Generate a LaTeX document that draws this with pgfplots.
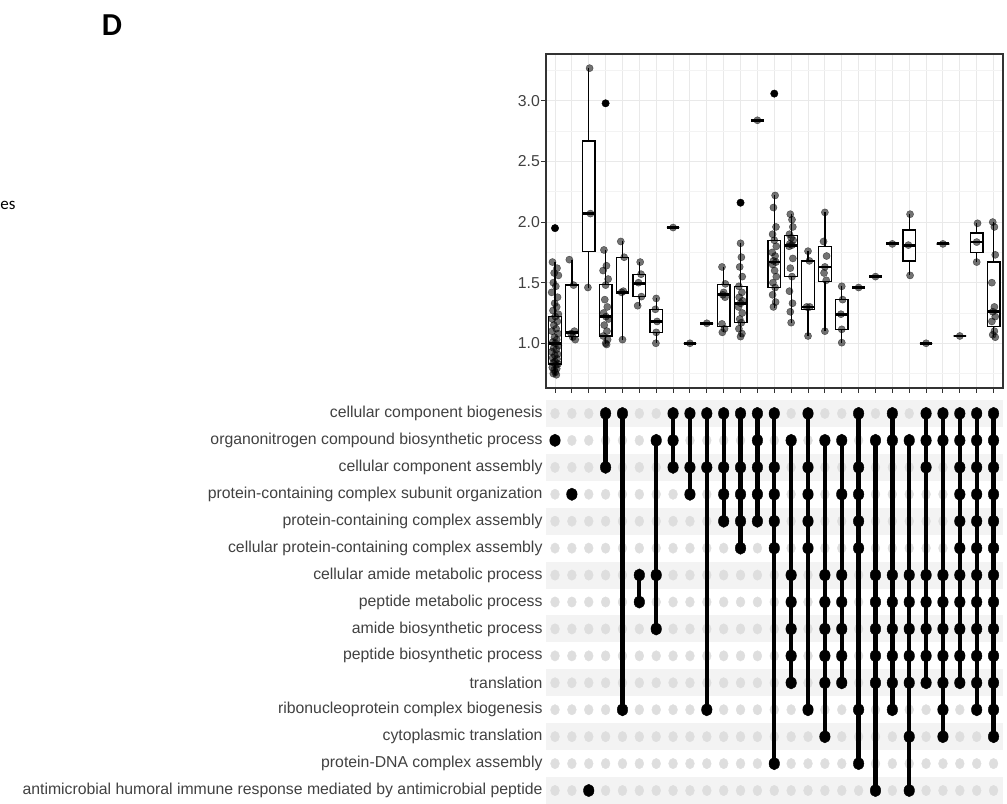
\documentclass[border=0pt]{standalone}
\usepackage{fontspec}
\setmainfont{Liberation Sans}
\newfontfamily\carlito{Carlito}
\usepackage{pgfplots}
\pgfplotsset{compat=1.18}
\usepgfplotslibrary{statistics}
\definecolor{txtgray}{RGB}{65,65,65}
\definecolor{axgray}{RGB}{51,51,51}
\definecolor{gridmaj}{RGB}{233,233,233}
\definecolor{gridmin}{RGB}{243,243,243}
\definecolor{band}{RGB}{243,243,243}
\definecolor{dotgray}{RGB}{222,222,222}
\newcommand{\bx}[6]{\addplot[draw=black, fill=white, line width=1.3bp, boxplot prepared={draw direction=y, draw position=#1, lower whisker=#2, lower quartile=#3, median=#4, upper quartile=#5, upper whisker=#6, box extend=0.75, whisker extend=0, every median/.style={line width=2.8bp}}] coordinates {};}
\newcommand{\bxs}[2]{\bx{#1}{#2}{#2}{#2}{#2}{#2}}
\begin{document}
\begin{tikzpicture}
\useasboundingbox (0,0) rectangle (1007bp,804bp);
\node[anchor=center] at (112bp,779bp) {\carlito\bfseries\fontsize{32bp}{32bp}\selectfont D};
\node[anchor=west, inner sep=0pt] at (0.3bp,599bp) {\carlito\fontsize{17bp}{17bp}\selectfont es};
% ---------- box plot ----------
\begin{axis}[at={(546bp,416bp)}, anchor=south west, scale only axis, width=457bp, height=334bp,
 xmin=0.466, xmax=27.56, ymin=0.631, ymax=3.387,
 xtick={1,...,27}, xticklabels={}, ytick={1,1.5,2,2.5,3}, minor ytick={0.75,1.25,1.75,2.25,2.75,3.25},
 tick pos=left, tick align=outside, major tick length=5bp, minor tick length=0pt,
 xmajorgrids, ymajorgrids, yminorgrids,
 major grid style={gridmaj, line width=1bp}, minor grid style={gridmin, line width=0.6bp},
 axis line style={axgray, line width=1.2bp}, major tick style={axgray, line width=1bp},
 /pgf/number format/fixed, /pgf/number format/fixed zerofill, /pgf/number format/precision=1,
 /pgf/number format/assume math mode=true,
 yticklabel style={font=\fontsize{15.8bp}{18bp}\selectfont, text=txtgray, inner sep=1bp},
 ]
\bx{1}{0.74}{0.83}{1.00}{1.22}{1.67}
\bx{2}{1.03}{1.055}{1.09}{1.48}{1.69}
\bx{3}{1.46}{1.76}{2.07}{2.67}{3.27}
\bx{4}{0.99}{1.06}{1.22}{1.487}{1.77}
\bx{5}{1.03}{1.41}{1.42}{1.71}{1.84}
\bx{6}{1.31}{1.385}{1.495}{1.57}{1.67}
\bx{7}{1.0}{1.09}{1.18}{1.28}{1.37}
\bxs{8}{1.955}
\bxs{9}{1.0}
\bxs{10}{1.165}
\bx{11}{1.09}{1.14}{1.40}{1.487}{1.63}
\bx{12}{1.055}{1.17}{1.33}{1.47}{1.825}
\bxs{13}{2.84}
\bx{14}{1.29}{1.46}{1.67}{1.85}{2.22}
\bx{15}{1.17}{1.55}{1.81}{1.89}{2.065}
\bx{16}{1.06}{1.28}{1.30}{1.68}{1.76}
\bx{17}{1.10}{1.51}{1.63}{1.80}{2.08}
\bx{18}{1.005}{1.115}{1.24}{1.36}{1.47}
\bxs{19}{1.46}
\bxs{20}{1.55}
\bxs{21}{1.82}
\bx{22}{1.56}{1.68}{1.81}{1.935}{2.065}
\bxs{23}{1.0}
\bxs{24}{1.82}
\bxs{25}{1.06}
\bx{26}{1.67}{1.75}{1.835}{1.91}{1.99}
\bx{27}{1.05}{1.14}{1.26}{1.67}{2.0}
% outliers
\addplot[only marks, mark=*, mark size=3.7bp, black] coordinates {(1,1.95) (4,2.98) (12,2.16) (14,3.06)};
% jittered points
\addplot[only marks, mark=*, mark size=3.6bp, mark options={draw=black, fill=black, opacity=0.55}] coordinates {
(0.85,1.67)(1.12,1.62)(0.95,1.58)(1.2,1.56)(0.9,1.50)(1.05,1.47)(0.8,1.42)(1.15,1.38)(0.98,1.33)(1.1,1.30)
(0.88,1.27)(1.2,1.24)(1.02,1.22)(0.84,1.20)(1.14,1.18)(0.93,1.15)(1.07,1.12)(0.82,1.10)(1.18,1.08)(0.97,1.05)
(1.1,1.03)(0.87,1.01)(1.03,1.00)(1.2,0.98)(0.92,0.96)(1.08,0.95)(0.81,0.93)(1.15,0.91)(0.99,0.90)(0.86,0.88)
(1.12,0.87)(1.0,0.85)(0.9,0.84)(1.18,0.83)(1.05,0.82)(0.84,0.80)(1.1,0.79)(0.95,0.78)(1.02,0.76)(0.9,0.75)(1.08,0.74)
(1.85,1.69)(2.1,1.48)(2.15,1.10)(1.95,1.08)(2.05,1.05)(2.2,1.03)
(3.05,3.27)(3.1,2.07)(2.95,1.46)
(3.9,1.77)(4.05,1.64)(3.85,1.60)(4.15,1.53)(4.0,1.48)(3.95,1.36)(4.1,1.30)(3.88,1.25)(4.02,1.22)(4.18,1.20)
(3.92,1.15)(4.08,1.10)(3.86,1.06)(4.12,1.03)(4.0,1.00)(4.06,0.99)
(4.9,1.84)(5.1,1.71)(5.05,1.43)(4.95,1.42)(5.0,1.03)
(6.05,1.67)(6.1,1.57)(5.95,1.50)(6.12,1.385)(5.9,1.31)
(7.0,1.37)(6.95,1.28)(7.05,1.18)(7.0,1.09)(6.98,1.0)
(8,1.955)(9,1.0)(10,1.165)
(10.9,1.63)(11.1,1.49)(11.0,1.42)(10.95,1.40)(11.08,1.38)(10.9,1.16)(11.05,1.12)(10.92,1.09)
(12.0,1.825)(12.05,1.71)(11.95,1.63)(12.1,1.55)(11.9,1.47)(12.08,1.42)(11.92,1.38)(12.12,1.35)(12.0,1.33)(11.88,1.30)
(12.1,1.25)(11.95,1.20)(12.05,1.17)(11.9,1.12)(12.08,1.08)(12.0,1.055)
(13,2.84)
(14.05,2.22)(13.95,2.12)(14.1,1.96)(13.9,1.90)(14.0,1.85)(14.12,1.80)(13.88,1.75)(14.05,1.72)(13.95,1.68)(14.1,1.67)
(13.9,1.65)(14.02,1.60)(14.12,1.55)(13.92,1.50)(14.05,1.46)(13.9,1.40)(14.08,1.34)(13.95,1.30)
(14.95,2.065)(15.05,2.02)(15.1,1.96)(14.9,1.90)(15.0,1.87)(15.12,1.85)(14.92,1.82)(15.05,1.81)(14.88,1.80)(15.1,1.70)
(14.95,1.62)(15.05,1.55)(14.9,1.43)(15.08,1.33)(14.95,1.26)(15.0,1.17)
(16.0,1.76)(16.08,1.68)(15.92,1.30)(16.1,1.30)(16.0,1.06)
(17.0,2.08)(16.92,1.84)(17.1,1.72)(17.0,1.63)(16.95,1.58)(17.08,1.52)(17.0,1.10)
(18.0,1.47)(18.05,1.36)(17.95,1.24)(18.0,1.115)(18.0,1.005)
(19,1.46)(20,1.55)(21,1.82)
(22.05,2.065)(21.95,1.81)(22.05,1.56)
(23,1.0)(24,1.82)(25,1.06)
(26.05,1.99)(26.0,1.835)(26.0,1.67)
(26.95,2.0)(27.05,1.96)(27.1,1.73)(26.9,1.50)(27.05,1.30)(26.95,1.26)(27.1,1.22)(26.9,1.18)(27.05,1.10)(26.95,1.07)(27.1,1.05)
};
\end{axis}
% ---------- matrix ----------
\begin{axis}[at={(546bp,0bp)}, anchor=south west, scale only axis, width=457bp, height=404bp,
 xmin=0.466, xmax=27.56, ymin=0.5, ymax=15.5, y dir=reverse, clip=false, clip marker paths=true,
 axis line style={draw=none}, xtick=\empty, ytick={1,...,15}, major tick length=0pt, tick style={draw=none},
 yticklabels={cellular component biogenesis, organonitrogen compound biosynthetic process, cellular component assembly, protein-containing complex subunit organization, protein-containing complex assembly, cellular protein-containing complex assembly, cellular amide metabolic process, peptide metabolic process, amide biosynthetic process, peptide biosynthetic process, translation, ribonucleoprotein complex biogenesis, cytoplasmic translation, protein-DNA complex assembly, antimicrobial humoral immune response mediated by antimicrobial peptide},
 yticklabel style={font=\fontsize{15.8bp}{18bp}\selectfont, text=txtgray},
 ]
\addplot[fill=band, draw=none] coordinates {(0.466,0.5) (27.56,0.5) (27.56,1.5) (0.466,1.5)} -- cycle;
\addplot[fill=band, draw=none] coordinates {(0.466,2.5) (27.56,2.5) (27.56,3.5) (0.466,3.5)} -- cycle;
\addplot[fill=band, draw=none] coordinates {(0.466,4.5) (27.56,4.5) (27.56,5.5) (0.466,5.5)} -- cycle;
\addplot[fill=band, draw=none] coordinates {(0.466,6.5) (27.56,6.5) (27.56,7.5) (0.466,7.5)} -- cycle;
\addplot[fill=band, draw=none] coordinates {(0.466,8.5) (27.56,8.5) (27.56,9.5) (0.466,9.5)} -- cycle;
\addplot[fill=band, draw=none] coordinates {(0.466,10.5) (27.56,10.5) (27.56,11.5) (0.466,11.5)} -- cycle;
\addplot[fill=band, draw=none] coordinates {(0.466,12.5) (27.56,12.5) (27.56,13.5) (0.466,13.5)} -- cycle;
\addplot[fill=band, draw=none] coordinates {(0.466,14.5) (27.56,14.5) (27.56,15.5) (0.466,15.5)} -- cycle;
\pgfplotsinvokeforeach{1,...,15}{
\addplot[only marks, mark=*, mark size=5.2bp, color=dotgray, mark options={xscale=0.85}] coordinates {(1,#1) (2,#1) (3,#1) (4,#1) (5,#1) (6,#1) (7,#1) (8,#1) (9,#1) (10,#1) (11,#1) (12,#1) (13,#1) (14,#1) (15,#1) (16,#1) (17,#1) (18,#1) (19,#1) (20,#1) (21,#1) (22,#1) (23,#1) (24,#1) (25,#1) (26,#1) (27,#1)};
}
\addplot[black, line width=4.3bp, unbounded coords=jump] coordinates {
(4,1)(4,3)(4,inf) (5,1)(5,12)(5,inf) (6,7)(6,8)(6,inf) (7,2)(7,9)(7,inf) (8,1)(8,3)(8,inf) (9,1)(9,4)(9,inf)
(10,1)(10,12)(10,inf) (11,1)(11,5)(11,inf) (12,1)(12,6)(12,inf) (13,1)(13,5)(13,inf) (14,1)(14,14)(14,inf)
(15,2)(15,11)(15,inf) (16,1)(16,12)(16,inf) (17,2)(17,13)(17,inf) (18,2)(18,11)(18,inf) (19,1)(19,14)(19,inf)
(20,2)(20,15)(20,inf) (21,1)(21,12)(21,inf) (22,2)(22,15)(22,inf) (23,1)(23,11)(23,inf) (24,1)(24,13)(24,inf)
(25,1)(25,11)(25,inf) (26,1)(26,12)(26,inf) (27,1)(27,13)
};
\addplot[only marks, mark=*, mark size=6.2bp, black, mark options={xscale=0.85}] coordinates {
(1,2) (2,4) (3,15) (4,1)(4,3) (5,1)(5,12) (6,7)(6,8) (7,2)(7,7)(7,9) (8,1)(8,2)(8,3) (9,1)(9,3)(9,4)
(10,1)(10,3)(10,12) (11,1)(11,3)(11,4)(11,5) (12,1)(12,3)(12,4)(12,5)(12,6) (13,1)(13,2)(13,3)(13,4)(13,5)
(14,1)(14,3)(14,4)(14,5)(14,6)(14,14)
(15,2)(15,7)(15,8)(15,9)(15,10)(15,11)
(16,1)(16,3)(16,4)(16,5)(16,6)(16,12)
(17,2)(17,7)(17,8)(17,9)(17,10)(17,11)(17,13)
(18,2)(18,4)(18,7)(18,8)(18,9)(18,10)(18,11)
(19,1)(19,3)(19,4)(19,5)(19,6)(19,12)(19,14)
(20,2)(20,7)(20,8)(20,9)(20,10)(20,11)(20,15)
(21,1)(21,2)(21,7)(21,8)(21,9)(21,10)(21,11)(21,12)
(22,2)(22,7)(22,8)(22,9)(22,10)(22,11)(22,13)(22,15)
(23,1)(23,2)(23,3)(23,7)(23,8)(23,9)(23,10)(23,11)
(24,1)(24,2)(24,7)(24,8)(24,9)(24,10)(24,11)(24,12)(24,13)
(25,1)(25,2)(25,3)(25,4)(25,5)(25,6)(25,7)(25,8)(25,9)(25,10)(25,11)
(26,1)(26,2)(26,3)(26,4)(26,5)(26,6)(26,7)(26,8)(26,9)(26,10)(26,11)(26,12)
(27,1)(27,2)(27,3)(27,4)(27,5)(27,6)(27,7)(27,8)(27,9)(27,10)(27,11)(27,12)(27,13)
};
\end{axis}
\end{tikzpicture}
\end{document}
